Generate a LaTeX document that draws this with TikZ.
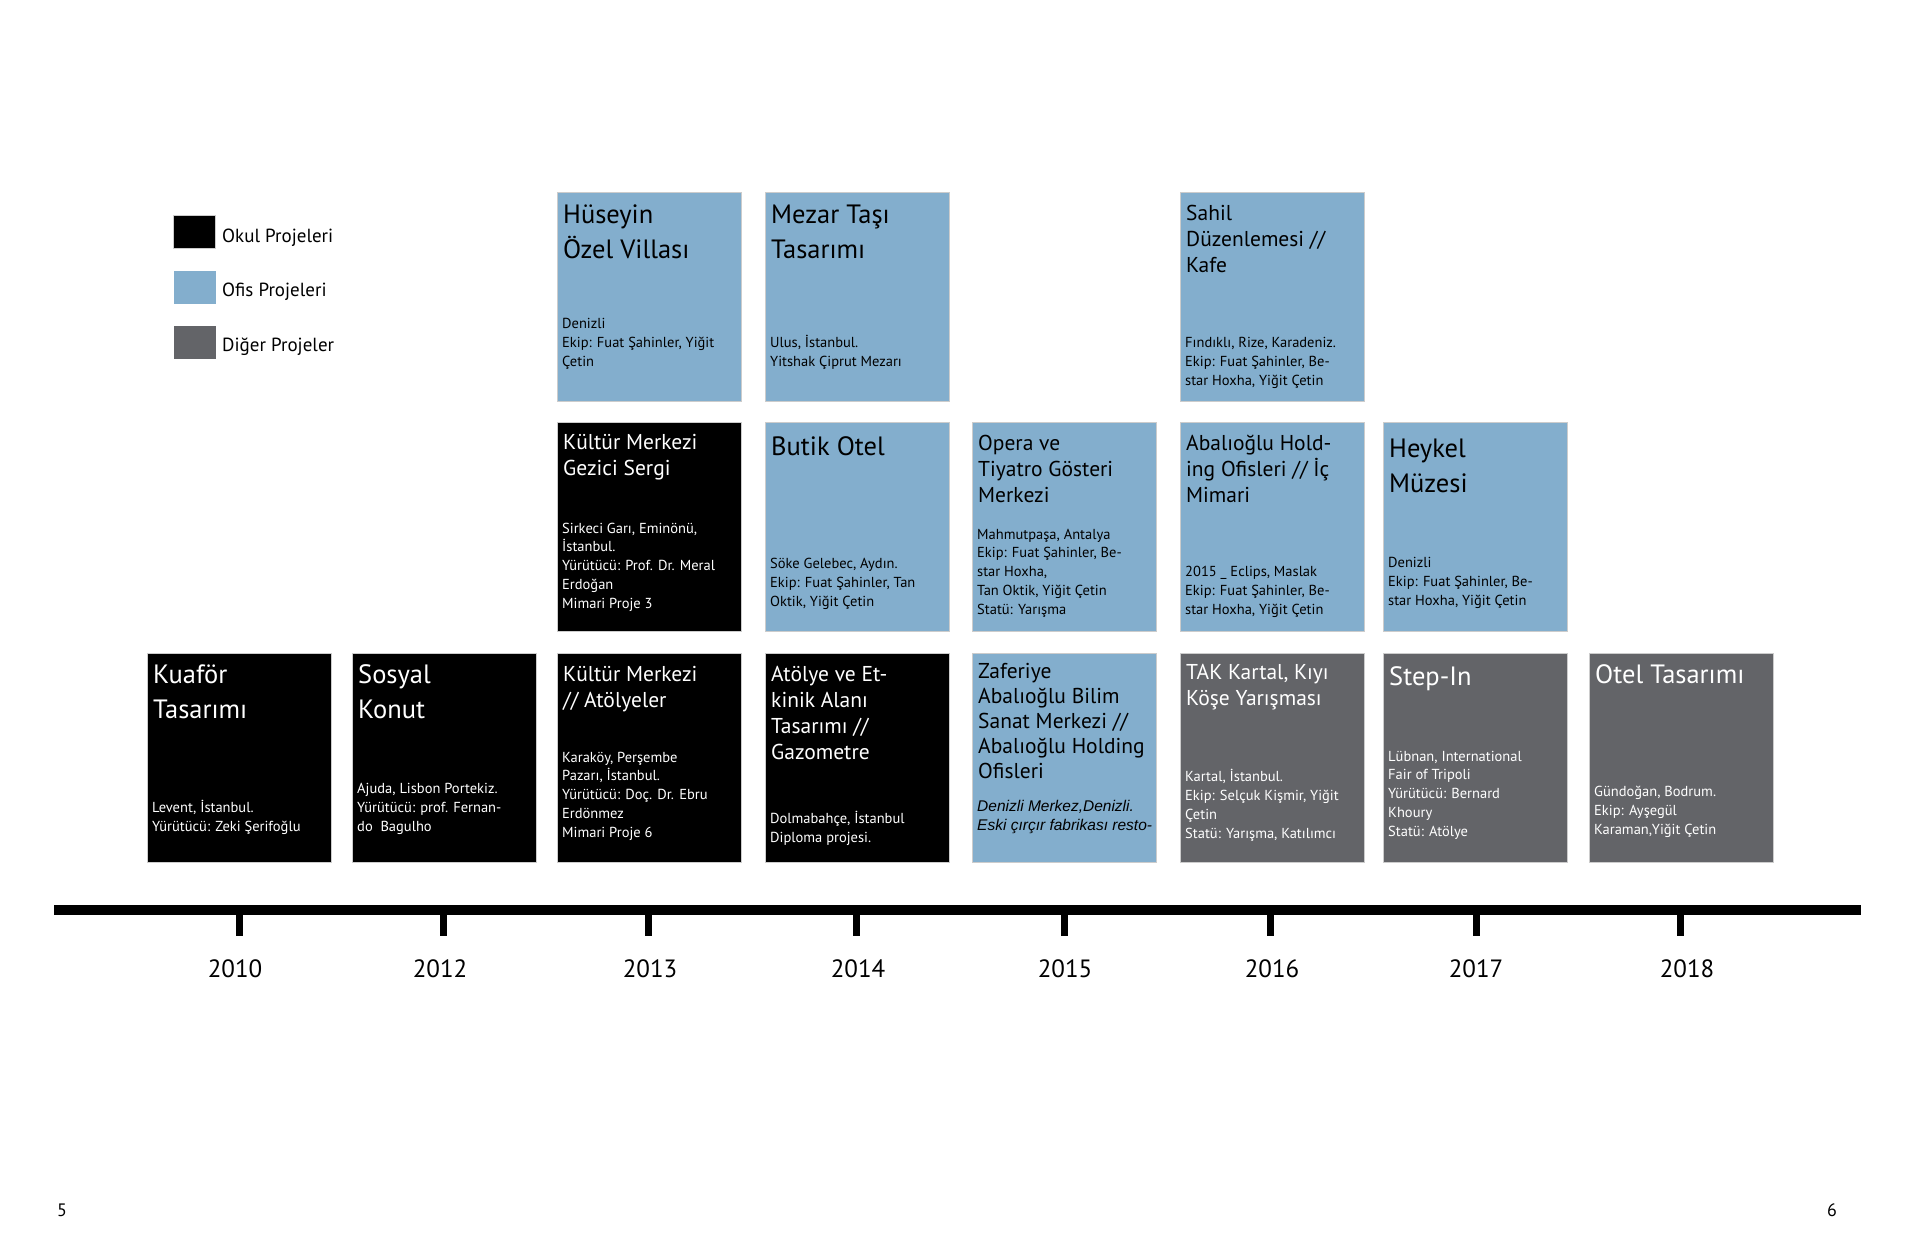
\documentclass[tikz,border=0pt]{standalone}
\usepackage{fontspec}
\setmainfont{PT Sans}
\newfontfamily\arialfont{Liberation Sans}
\definecolor{ofisrenk}{RGB}{131,174,205}
\definecolor{digerrenk}{RGB}{99,100,104}

\begin{document}
\begin{tikzpicture}[x=1pt,y=-1pt]
    \tikzstyle{proj}=[rectangle,draw=black!20,line width=1pt,anchor=north west,minimum width=184pt,minimum height=209pt,inner sep=0pt]
    \tikzstyle{okulbox}=[proj,fill=black]
    \tikzstyle{ofisbox}=[proj,fill=ofisrenk]
    \tikzstyle{digerbox}=[proj,fill=digerrenk]
    % base anchor = baseline of the last line
    \tikzstyle{buyuk}=[anchor=base west,align=left,inner sep=0pt,font=\fontsize{26.5}{35}\selectfont]
    \tikzstyle{orta}=[anchor=base west,align=left,inner sep=0pt,font=\fontsize{21.5}{26}\selectfont]
    \tikzstyle{bilgi}=[anchor=base west,align=left,inner sep=0pt,font=\fontsize{14.5}{18.7}\selectfont]
    \tikzstyle{yil}=[anchor=base,inner sep=0pt,font=\fontsize{25}{30}\selectfont]
    \tikzstyle{lejant}=[anchor=base west,inner sep=0pt,font=\fontsize{19}{23}\selectfont]
    \fill[white] (0,0) rectangle (1920,1242);
    \useasboundingbox (0,0) rectangle (1920,1242);

    % legend
      \node[proj,fill=black,minimum width=42pt,minimum height=33pt] (L_okul) at (173,215) {};
      \node[proj,fill=ofisrenk,draw=none,minimum width=42pt,minimum height=33pt] (L_ofis) at (173,270) {};
      \node[proj,fill=digerrenk,draw=none,minimum width=42pt,minimum height=33pt] (L_diger) at (173,325) {};
      \node[lejant] (T_okul) at (222,242) {Okul Projeleri};
      \node[lejant] (T_ofis) at (222,296) {Ofis Projeleri};
      \node[lejant] (T_diger) at (222,351) {Diğer Projeler};

    % 2010
      \node[okulbox] (P_2010c) at (147,653) {};
      \node[buyuk,text=white] (B_2010c) at (153,718) {Kuaför\\Tasarımı};
      \node[bilgi,text=white] (I_2010c) at (152,831) {Levent, İstanbul.\\Yürütücü: Zeki Şerifoğlu};
    % 2012
      \node[okulbox] (P_2012c) at (352,653) {};
      \node[buyuk,text=white] (B_2012c) at (358,718) {Sosyal\\Konut};
      \node[bilgi,text=white] (I_2012c) at (357,831) {Ajuda, Lisbon Portekiz.\\Yürütücü: prof. Fernan-\\do~~Bagulho};
    % 2013
      \node[ofisbox] (P_2013a) at (557,192) {};
      \node[buyuk] (B_2013a) at (563,258) {Hüseyin\\Özel Villası};
      \node[bilgi] (I_2013a) at (562,366) {Denizli\\Ekip: Fuat Şahinler, Yiğit\\Çetin};
      \node[okulbox] (P_2013b) at (557,422) {};
      \node[orta,text=white] (B_2013b) at (563,475) {Kültür Merkezi\\Gezici Sergi};
      \node[bilgi,text=white] (I_2013b) at (562,608) {Sirkeci Garı, Eminönü,\\İstanbul.\\Yürütücü: Prof. Dr. Meral\\Erdoğan\\Mimari Proje 3};
      \node[okulbox] (P_2013c) at (557,653) {};
      \node[orta,text=white] (B_2013c) at (563,707) {Kültür Merkezi\\// Atölyeler};
      \node[bilgi,text=white] (I_2013c) at (562,837) {Karaköy, Perşembe\\Pazarı, İstanbul.\\Yürütücü: Doç. Dr. Ebru\\Erdönmez\\Mimari Proje 6};
    % 2014
      \node[ofisbox] (P_2014a) at (765,192) {};
      \node[buyuk] (B_2014a) at (771,258) {Mezar Taşı\\Tasarımı};
      \node[bilgi] (I_2014a) at (770,366) {Ulus, İstanbul.\\Yitshak Çiprut Mezarı};
      \node[ofisbox] (P_2014b) at (765,422) {};
      \node[buyuk] (B_2014b) at (771,455) {Butik Otel};
      \node[bilgi] (I_2014b) at (770,606) {Söke Gelebec, Aydın.\\Ekip: Fuat Şahinler, Tan\\Oktik, Yiğit Çetin};
      \node[okulbox] (P_2014c) at (765,653) {};
      \node[orta,text=white] (B_2014c) at (771,759) {Atölye ve Et-\\kinik Alanı\\Tasarımı //\\Gazometre};
      \node[bilgi,text=white] (I_2014c) at (770,842) {Dolmabahçe, İstanbul\\Diploma projesi.};
    % 2015
      \node[ofisbox] (P_2015b) at (972,422) {};
      \node[orta] (B_2015b) at (978,502) {Opera ve\\Tiyatro Gösteri\\Merkezi};
      \node[bilgi] (I_2015b) at (977,614) {Mahmutpaşa, Antalya\\Ekip: Fuat Şahinler, Be-\\star Hoxha,\\Tan Oktik, Yiğit Çetin\\Statü: Yarışma};
      \node[ofisbox] (P_2015c) at (972,653) {};
      \node[orta,font=\fontsize{21.5}{25}\selectfont] (B_2015c) at (978,778) {Zaferiye\\Abalıoğlu Bilim\\Sanat Merkezi //\\Abalıoğlu Holding\\Ofisleri};
      \node[bilgi,font=\arialfont\itshape\fontsize{15.5}{18.7}\selectfont] (I_2015c) at (977,830) {Denizli Merkez,Denizli.\\Eski çırçır fabrikası resto-};
    % 2016
      \node[ofisbox] (P_2016a) at (1180,192) {};
      \node[orta] (B_2016a) at (1186,272) {Sahil\\Düzenlemesi //\\Kafe};
      \node[bilgi] (I_2016a) at (1185,385) {Fındıklı, Rize, Karadeniz.\\Ekip: Fuat Şahinler, Be-\\star Hoxha, Yiğit Çetin};
      \node[ofisbox] (P_2016b) at (1180,422) {};
      \node[orta] (B_2016b) at (1186,502) {Abalıoğlu Hold-\\ing Ofisleri // İç\\Mimari};
      \node[bilgi] (I_2016b) at (1185,614) {2015 \_ Eclips, Maslak\\Ekip: Fuat Şahinler, Be-\\star Hoxha, Yiğit Çetin};
      \node[digerbox] (P_2016c) at (1180,653) {};
      \node[orta,text=white] (B_2016c) at (1186,705) {TAK Kartal, Kıyı\\Köşe Yarışması};
      \node[bilgi,text=white] (I_2016c) at (1185,838) {Kartal, İstanbul.\\Ekip: Selçuk Kişmir, Yiğit\\Çetin\\Statü: Yarışma, Katılımcı};
    % 2017
      \node[ofisbox] (P_2017b) at (1383,422) {};
      \node[buyuk] (B_2017b) at (1389,492) {Heykel\\Müzesi};
      \node[bilgi] (I_2017b) at (1388,605) {Denizli\\Ekip: Fuat Şahinler, Be-\\star Hoxha, Yiğit Çetin};
      \node[digerbox] (P_2017c) at (1383,653) {};
      \node[buyuk,text=white] (B_2017c) at (1389,685) {Step-In};
      \node[bilgi,text=white] (I_2017c) at (1388,836) {Lübnan, International\\Fair of Tripoli\\Yürütücü: Bernard\\Khoury\\Statü: Atölye};
    % 2018
      \node[digerbox] (P_2018c) at (1589,653) {};
      \node[buyuk,text=white] (B_2018c) at (1595,683) {Otel Tasarımı};
      \node[bilgi,text=white] (I_2018c) at (1594,834) {Gündoğan, Bodrum.\\Ekip: Ayşegül\\Karaman,Yiğit Çetin};

    % timeline
      \coordinate (Z_sol) at (54,910);
      \coordinate (Z_sag) at (1861,910);
      \draw[line width=10pt] (Z_sol) -- (Z_sag);
      \node[yil] (Y_2010) at (235,977) {2010};
      \node[yil] (Y_2012) at (440,977) {2012};
      \node[yil] (Y_2013) at (650,977) {2013};
      \node[yil] (Y_2014) at (858,977) {2014};
      \node[yil] (Y_2015) at (1065,977) {2015};
      \node[yil] (Y_2016) at (1272,977) {2016};
      \node[yil] (Y_2017) at (1476,977) {2017};
      \node[yil] (Y_2018) at (1687,977) {2018};
      \coordinate (C_2010) at (239,910); \coordinate (D_2010) at (239,936);
      \coordinate (C_2012) at (443,910); \coordinate (D_2012) at (443,936);
      \coordinate (C_2013) at (648,910); \coordinate (D_2013) at (648,936);
      \coordinate (C_2014) at (856,910); \coordinate (D_2014) at (856,936);
      \coordinate (C_2015) at (1064,910); \coordinate (D_2015) at (1064,936);
      \coordinate (C_2016) at (1270,910); \coordinate (D_2016) at (1270,936);
      \coordinate (C_2017) at (1476,910); \coordinate (D_2017) at (1476,936);
      \coordinate (C_2018) at (1680,910); \coordinate (D_2018) at (1680,936);
      \draw[line width=7pt] (C_2010) -- (D_2010);
      \draw[line width=7pt] (C_2012) -- (D_2012);
      \draw[line width=7pt] (C_2013) -- (D_2013);
      \draw[line width=7pt] (C_2014) -- (D_2014);
      \draw[line width=7pt] (C_2015) -- (D_2015);
      \draw[line width=7pt] (C_2016) -- (D_2016);
      \draw[line width=7pt] (C_2017) -- (D_2017);
      \draw[line width=7pt] (C_2018) -- (D_2018);

    % page numbers
      \node[anchor=base west,inner sep=0pt,font=\fontsize{18}{22}\selectfont] (S_5) at (57,1216) {5};
      \node[anchor=base west,inner sep=0pt,font=\fontsize{18}{22}\selectfont] (S_6) at (1827,1216) {6};
\end{tikzpicture}
\end{document}
